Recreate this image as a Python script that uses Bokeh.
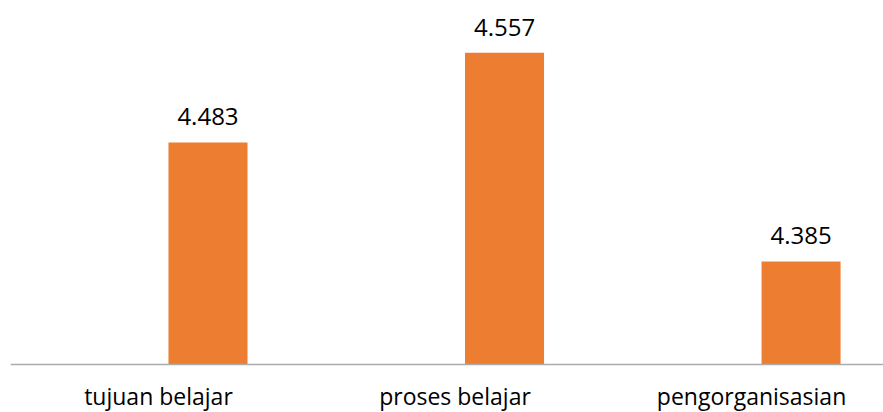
from bokeh.plotting import figure
from bokeh.models import ColumnDataSource, Range1d, Span
from bokeh.core.properties import value
from bokeh.embed import file_html
from bokeh.resources import INLINE

categories = ["tujuan belajar", "proses belajar", "pengorganisasian"]
values = [4.483, 4.557, 4.385]
value_labels = ["4.483", "4.557", "4.385"]
baseline = 4.3

pos = list(range(len(categories)))
bar_shift = 0.167
src = ColumnDataSource(dict(
    x=[p_ + bar_shift for p_ in pos],
    top=values,
    lab=value_labels,
))
cat_src = ColumnDataSource(dict(x=pos, y=[baseline] * len(pos), cat=categories))

p = figure(width=883, height=412, output_backend="svg", toolbar_location=None,
           x_range=Range1d(-0.499, 2.445), y_range=Range1d(4.2605, 4.6),
           min_border_left=10, min_border_right=0, min_border_top=0, min_border_bottom=0)
p.outline_line_color = None
p.grid.visible = False
p.axis.visible = False
p.background_fill_color = "white"
p.border_fill_color = "white"

p.vbar(x="x", top="top", bottom=baseline, width=0.2665, source=src,
       fill_color="#ED7D31", line_color=None)

p.add_layout(Span(location=baseline, dimension="width", line_color="#ABABAB", line_width=1.5))

p.text(x="x", y="top", text="lab", source=src, y_offset=-17,
       text_align="center", text_baseline="bottom",
       text_font=value("Open Sans"), text_font_size="24px", text_color="#000000")

p.text(x="x", y="y", text="cat", source=cat_src, y_offset=47,
       text_align="center", text_baseline="bottom",
       text_font=value("Open Sans"), text_font_size="23px", text_color="#000000")

open("out.html", "w").write(file_html(p, INLINE))
